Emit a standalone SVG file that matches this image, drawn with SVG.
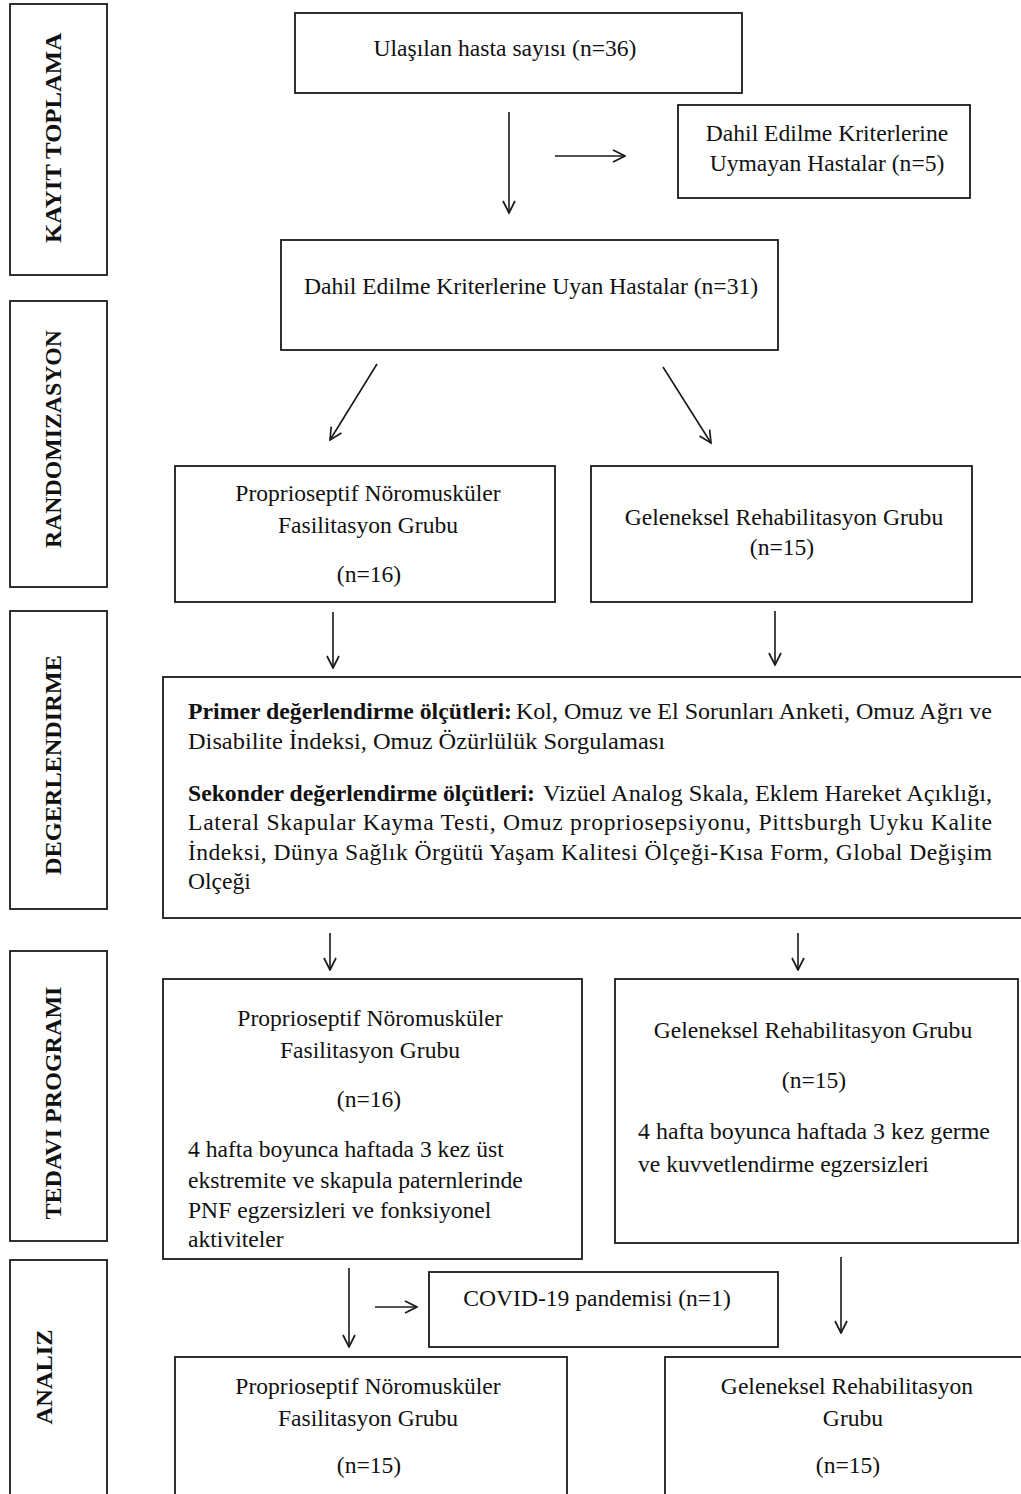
<svg xmlns="http://www.w3.org/2000/svg" width="1021" height="1494" viewBox="0 0 1021 1494">
<defs>
<style>
.box{fill:#fff;stroke:#1a1a1a;stroke-width:1.8}
.t{font-family:"Liberation Serif","Times New Roman",serif;font-size:23.6px;fill:#111}
.c{text-anchor:middle}
.b{font-weight:bold}
.lbl{font-family:"Liberation Serif","Times New Roman",serif;font-size:23px;font-weight:bold;fill:#111;text-anchor:middle}
.ar{stroke:#1a1a1a;stroke-width:1.6;fill:none;marker-end:url(#ah)}
</style>
<marker id="ah" viewBox="0 0 14 14" refX="13" refY="7" markerWidth="14" markerHeight="14" markerUnits="userSpaceOnUse" orient="auto">
<path d="M1,1 L13,7 L1,13" fill="none" stroke="#1a1a1a" stroke-width="1.7"/>
</marker>
</defs>
<rect width="1021" height="1494" fill="#fff"/>

<g id="lbl-kayit"><rect class="box" x="10" y="4" width="97" height="271"/><text class="lbl" transform="translate(61,138) rotate(-90)" textLength="210" lengthAdjust="spacingAndGlyphs">KAYIT TOPLAMA</text></g>
<g id="lbl-random"><rect class="box" x="10" y="301" width="97" height="286"/><text class="lbl" transform="translate(61,439) rotate(-90)" textLength="218" lengthAdjust="spacingAndGlyphs">RANDOMIZASYON</text></g>
<g id="lbl-deger"><rect class="box" x="10" y="611" width="97" height="298"/><text class="lbl" transform="translate(61,765) rotate(-90)" textLength="220" lengthAdjust="spacingAndGlyphs">DEGERLENDIRME</text></g>
<g id="lbl-tedavi"><rect class="box" x="10" y="951" width="97" height="290"/><text class="lbl" transform="translate(61,1103) rotate(-90)" textLength="233" lengthAdjust="spacingAndGlyphs">TEDAVI PROGRAMI</text></g>
<g id="lbl-analiz"><rect class="box" x="10" y="1260" width="97" height="260"/><text class="lbl" transform="translate(52,1377) rotate(-90)" textLength="95" lengthAdjust="spacingAndGlyphs">ANALIZ</text></g>

<g id="n-ulasilan"><rect class="box" x="295" y="13" width="447" height="80"/><text class="t c" x="505" y="56">Ulaşılan hasta sayısı (n=36)</text></g>
<g id="n-uymayan"><rect class="box" x="678" y="105" width="292" height="93"/><text class="t c" x="827" y="141">Dahil Edilme Kriterlerine</text><text class="t c" x="827" y="171">Uymayan Hastalar (n=5)</text></g>
<g id="n-uyan"><rect class="box" x="281" y="240" width="497" height="110"/><text class="t c" x="531" y="294">Dahil Edilme Kriterlerine Uyan Hastalar (n=31)</text></g>
<g id="n-pnf1"><rect class="box" x="175" y="466" width="380" height="136"/><text class="t c" x="368" y="501">Proprioseptif Nöromusküler</text><text class="t c" x="368" y="533">Fasilitasyon Grubu</text><text class="t c" x="369" y="582">(n=16)</text></g>
<g id="n-grg1"><rect class="box" x="591" y="466" width="381" height="136"/><text class="t c" x="784" y="525">Geleneksel Rehabilitasyon Grubu</text><text class="t c" x="782" y="555">(n=15)</text></g>
<g id="n-deger"><rect class="box" x="163" y="677" width="870" height="241"/>
<text class="t b" x="188" y="719" textLength="324" lengthAdjust="spacingAndGlyphs">Primer değerlendirme ölçütleri:</text>
<text class="t" x="516" y="719" textLength="476" lengthAdjust="spacingAndGlyphs">Kol, Omuz ve El Sorunları Anketi, Omuz Ağrı ve</text>
<text class="t" x="188" y="749" textLength="477" lengthAdjust="spacingAndGlyphs">Disabilite İndeksi, Omuz Özürlülük Sorgulaması</text>
<text class="t b" x="188" y="801" textLength="347" lengthAdjust="spacingAndGlyphs">Sekonder değerlendirme ölçütleri:</text>
<text class="t" x="543" y="801" textLength="449" lengthAdjust="spacingAndGlyphs">Vizüel Analog Skala, Eklem Hareket Açıklığı,</text>
<text class="t" x="188" y="830" textLength="804" lengthAdjust="spacing">Lateral Skapular Kayma Testi, Omuz propriosepsiyonu, Pittsburgh Uyku Kalite</text>
<text class="t" x="188" y="860" textLength="804" lengthAdjust="spacing">İndeksi, Dünya Sağlık Örgütü Yaşam Kalitesi Ölçeği-Kısa Form, Global Değişim</text>
<text class="t" x="188" y="889">Olçeği</text>
</g>
<g id="n-pnf2"><rect class="box" x="163" y="979" width="419" height="280"/><text class="t c" x="370" y="1026">Proprioseptif Nöromusküler</text><text class="t c" x="370" y="1058">Fasilitasyon Grubu</text><text class="t c" x="369" y="1107">(n=16)</text>
<text class="t" x="188" y="1157">4 hafta boyunca haftada 3 kez üst</text><text class="t" x="188" y="1188">ekstremite ve skapula paternlerinde</text><text class="t" x="188" y="1218">PNF egzersizleri ve fonksiyonel</text><text class="t" x="188" y="1247">aktiviteler</text></g>
<g id="n-grg2"><rect class="box" x="615" y="979" width="403" height="264"/><text class="t c" x="813" y="1038">Geleneksel Rehabilitasyon Grubu</text><text class="t c" x="814" y="1088">(n=15)</text>
<text class="t" x="638" y="1139" textLength="352" lengthAdjust="spacingAndGlyphs">4 hafta boyunca haftada 3 kez germe</text><text class="t" x="638" y="1172">ve kuvvetlendirme egzersizleri</text></g>
<g id="n-covid"><rect class="box" x="429" y="1272" width="349" height="75"/><text class="t c" x="597" y="1306">COVID-19 pandemisi (n=1)</text></g>
<g id="n-pnf3"><rect class="box" x="175" y="1357" width="392" height="200"/><text class="t c" x="368" y="1394">Proprioseptif Nöromusküler</text><text class="t c" x="368" y="1426">Fasilitasyon Grubu</text><text class="t c" x="369" y="1473">(n=15)</text></g>
<g id="n-grg3"><rect class="box" x="665" y="1357" width="400" height="200"/><text class="t c" x="847" y="1394">Geleneksel Rehabilitasyon</text><text class="t c" x="853" y="1426">Grubu</text><text class="t c" x="848" y="1473">(n=15)</text></g>

<g id="connectors">
<line class="ar" x1="509" y1="112" x2="509" y2="213"/>
<line class="ar" x1="555" y1="156" x2="625" y2="156"/>
<line class="ar" x1="377" y1="364" x2="330" y2="440"/>
<line class="ar" x1="663" y1="367" x2="711" y2="443"/>
<line class="ar" x1="333" y1="612" x2="333" y2="668"/>
<line class="ar" x1="775" y1="611" x2="775" y2="665"/>
<line class="ar" x1="330" y1="933" x2="330" y2="970"/>
<line class="ar" x1="798" y1="933" x2="798" y2="970"/>
<line class="ar" x1="349" y1="1268" x2="349" y2="1347"/>
<line class="ar" x1="375" y1="1307" x2="417" y2="1307"/>
<line class="ar" x1="841" y1="1257" x2="841" y2="1333"/>
</g>
</svg>
